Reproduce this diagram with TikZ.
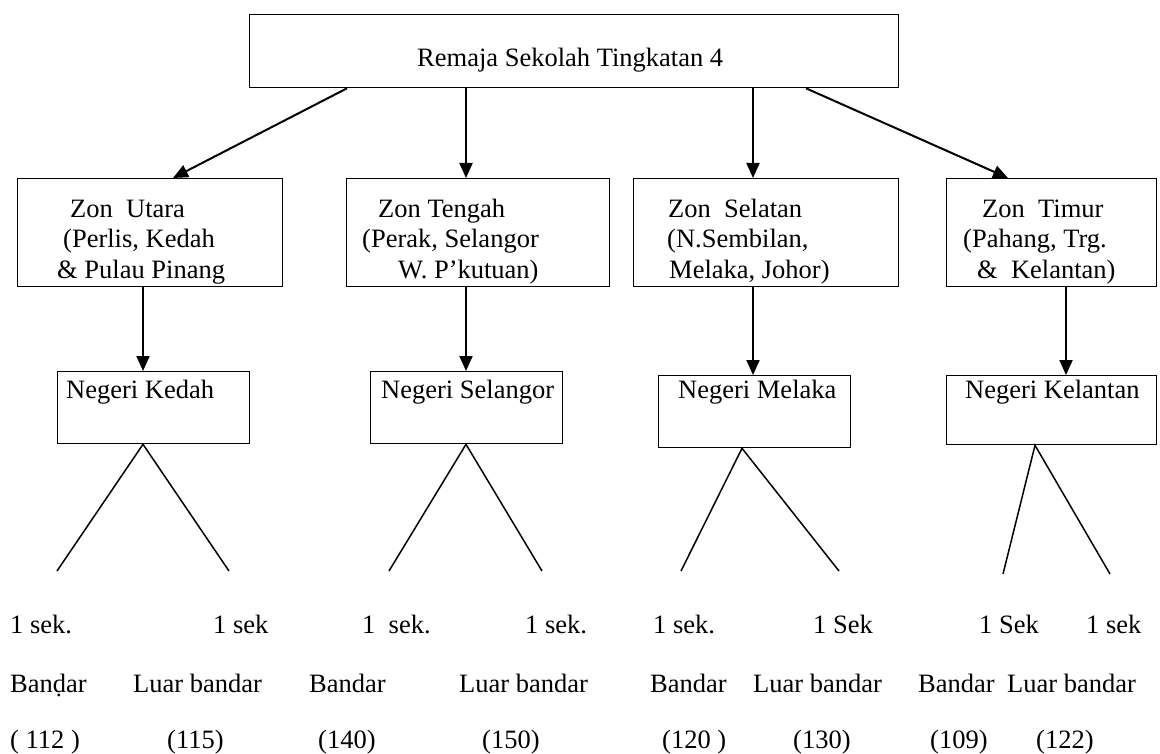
\documentclass[tikz,border=0pt]{standalone}
\usepackage{fontspec}
\setmainfont{Liberation Serif}
\usepackage{tikz}
\usetikzlibrary{arrows.meta}

\tikzset{
  box/.style={draw, line width=1.3pt, anchor=north west, inner sep=0pt},
  lbl/.style={anchor=base west, inner sep=0pt, font=\fontsize{26.5}{30}\selectfont},
  arr/.style={line width=2pt, -{Triangle[length=15pt,width=13pt]}},
  branch/.style={line width=1.5pt}
}

\begin{document}
\begin{tikzpicture}[x=1pt, y=-1pt]
                \useasboundingbox (0,0) rectangle (1160,754);
                % Top box
                \node[box, minimum width=649, minimum height=73] (top) at (249,14) {};
                \node[lbl] (ttop) at (417,67) {Remaja Sekolah Tingkatan 4};
                % Zone boxes
                \node[box, minimum width=265, minimum height=108] (z1) at (17,178) {};
                \node[box, minimum width=263, minimum height=108] (z2) at (346,178) {};
                \node[box, minimum width=265, minimum height=108] (z3) at (633,178) {};
                \node[box, minimum width=210, minimum height=108] (z4) at (946,178) {};
                % Zone texts
                \node[lbl] (z1a) at (70,218) {Zon\ \ Utara};
                \node[lbl] (z1b) at (63,248) {(Perlis, Kedah};
                \node[lbl] (z1c) at (57,279) {\& Pulau Pinang};
                \node[lbl] (z2a) at (378,218) {Zon Tengah};
                \node[lbl] (z2b) at (362,248) {(Perak, Selangor};
                \node[lbl] (z2c) at (398,279) {W. P’kutuan)};
                \node[lbl] (z3a) at (668,218) {Zon\ \ Selatan};
                \node[lbl] (z3b) at (667,248) {(N.Sembilan,};
                \node[lbl] (z3c) at (669,279) {Melaka, Johor)};
                \node[lbl] (z4a) at (982,218) {Zon\ \ Timur};
                \node[lbl] (z4b) at (963,248) {(Pahang, Trg.};
                \node[lbl] (z4c) at (977,279) {\&\ \ Kelantan)};
                % State boxes
                \node[box, minimum width=192, minimum height=72] (s1) at (57,371) {};
                \node[box, minimum width=192, minimum height=72] (s2) at (370,371) {};
                \node[box, minimum width=192, minimum height=72] (s3) at (658,375) {};
                \node[box, minimum width=210, minimum height=69] (s4) at (946,375) {};
                \node[lbl] (s1t) at (66,398) {Negeri Kedah};
                \node[lbl] (s2t) at (381,398) {Negeri Selangor};
                \node[lbl] (s3t) at (678,398) {Negeri Melaka};
                \node[lbl] (s4t) at (965,398) {Negeri Kelantan};
                % Arrows from top box
                \draw[arr] (top.south -| 347,0) -- (z1.north -| 173,0);
                \draw[arr] (top.south -| 466,0) -- (z2.north -| 466,0);
                \draw[arr] (top.south -| 753,0) -- (z3.north -| 753,0);
                \draw[arr] (top.south -| 806,0) -- (z4.north -| 1008,0);
                % Arrows zone to state
                \draw[arr] (z1.south -| 143,0) -- (s1.north -| 143,0);
                \draw[arr] (z2.south -| 466,0) -- (s2.north -| 466,0);
                \draw[arr] (z3.south -| 753,0) -- (s3.north -| 753,0);
                \draw[arr] (z4.south -| 1066,0) -- (s4.north -| 1066,0);
                % Branch ends
                \coordinate (b1l) at (57,571);
                \coordinate (b1r) at (229,571);
                \coordinate (b2l) at (389,571);
                \coordinate (b2r) at (542,571);
                \coordinate (b3l) at (681,571);
                \coordinate (b3r) at (839,571);
                \coordinate (b4l) at (1003,574);
                \coordinate (b4r) at (1110,574);
                % Branches
                \draw[branch] (b1l) -- (s1.south -| 143,0) -- (b1r);
                \draw[branch] (b2l) -- (s2.south -| 466,0) -- (b2r);
                \draw[branch] (b3l) -- (s3.south -| 742,0) -- (b3r);
                \draw[branch] (b4l) -- (s4.south -| 1035,0) -- (b4r);
                % Row 1
                \node[lbl] (r1a) at (10,633) {1 sek.};
                \node[lbl] (r1b) at (213,633) {1 sek};
                \node[lbl] (r1c) at (362,633) {1\ \ sek.};
                \node[lbl] (r1d) at (525,633) {1 sek.};
                \node[lbl] (r1e) at (653,633) {1 sek.};
                \node[lbl] (r1f) at (813,633) {1 Sek};
                \node[lbl] (r1g) at (979,633) {1 Sek};
                \node[lbl] (r1h) at (1086,633) {1 sek};
                % Row 2
                \node[lbl] (r2a) at (10,692) {Banḍar};
                \node[lbl] (r2b) at (133,692) {Luar bandar};
                \node[lbl] (r2c) at (309,692) {Bandar};
                \node[lbl] (r2d) at (459,692) {Luar bandar};
                \node[lbl] (r2e) at (650,692) {Bandar};
                \node[lbl] (r2f) at (753,692) {Luar bandar};
                \node[lbl] (r2g) at (918,692) {Bandar};
                \node[lbl] (r2h) at (1007,692) {Luar bandar};
                % Row 3
                \node[lbl] (r3a) at (10,748) {( 112 )};
                \node[lbl] (r3b) at (167,748) {(115)};
                \node[lbl] (r3c) at (318,748) {(140)};
                \node[lbl] (r3d) at (482,748) {(150)};
                \node[lbl] (r3e) at (662,748) {(120 )};
                \node[lbl] (r3f) at (793,748) {(130)};
                \node[lbl] (r3g) at (930,748) {(109)};
                \node[lbl] (r3h) at (1036,748) {(122)};
\end{tikzpicture}
\end{document}
